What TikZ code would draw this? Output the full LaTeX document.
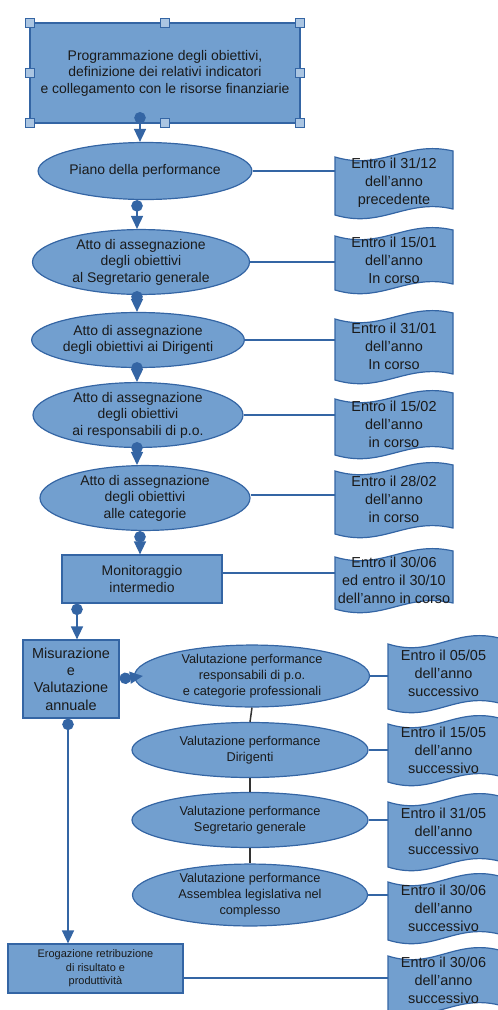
\documentclass[tikz,border=0pt]{standalone}
\usepackage{fontspec}
\setmainfont{Liberation Sans}
\usetikzlibrary{shapes.geometric,arrows.meta,calc}
\definecolor{fillc}{HTML}{729FCF}
\definecolor{bordc}{HTML}{3465A4}
\definecolor{darkc}{HTML}{333333}
\definecolor{txtc}{HTML}{1A1A1A}
\tikzset{
  box/.style={draw=bordc, fill=fillc, line width=1.2bp, align=center, inner sep=0pt, text=txtc},
  ell/.style={ellipse, draw=bordc, fill=fillc, line width=1.2bp, align=center, inner sep=0pt, text=txtc},
  flow/.style={draw=bordc, line width=1.5bp, {Circle[length=11.5bp,width=11.5bp]}-{Triangle[length=13bp,width=12bp]}},
  link/.style={draw=bordc, line width=1.2bp},
  vlink/.style={draw=darkc, line width=1.5bp},
  docfill/.style={draw=bordc, fill=fillc, line width=1.2bp},
  doctext/.style={inner sep=0pt, align=center, text=txtc, font=\fontsize{14.5}{18}\selectfont},
  handle/.style={draw=bordc, fill=fillc!60!white, minimum size=9bp, inner sep=0pt, line width=1bp},
  mainfont/.style={font=\fontsize{14}{16.5}\selectfont},
  smallfont/.style={font=\fontsize{12.8}{16}\selectfont},
  tinyfont/.style={font=\fontsize{11}{13.5}\selectfont}
}
\newcommand\docshape[6]{%
  \path[docfill] (#2,#3+9) .. controls ({#2+0.4*(#4-#2)},#3+23) and ({#2+0.6*(#4-#2)},#3-8) .. (#4,#3+3)
    -- (#4,#5-9) .. controls ({#2+0.6*(#4-#2)},#5-20) and ({#2+0.4*(#4-#2)},#5+11) .. (#2,#5-3) -- cycle;
  \node[doctext, minimum width={(#4-#2)*1bp}, minimum height={(#5-#3)*1bp}] (#1) at ({(#2+#4)/2},{(#3+#5)/2}) {#6};
}
\begin{document}
\begin{tikzpicture}[x=1bp,y=-1bp]
\useasboundingbox (0,0) rectangle (498,1010);
\begin{scope}
\clip (0,0) rectangle (498,1010);
% top box
\node[box, mainfont, minimum width=270bp, minimum height=100bp] (top) at (165,73)
  {Programmazione degli obiettivi,\\definizione dei relativi indicatori\\e collegamento con le risorse finanziarie};
\foreach \n/\x/\y in {h1/30/23, h2/165/23, h3/300/23, h4/30/73, h5/300/73, h6/30/123, h7/165/123, h8/300/123}
  \node[handle] (\n) at (\x,\y) {};
\coordinate (topout) at (140,112);

% ellipses left column
\node[ell, mainfont, minimum width=210bp, minimum height=57bp] (E1) at (145,171) {Piano della performance};
\node[ell, mainfont, minimum width=217bp, minimum height=61bp] (E2) at (141,262) {Atto di assegnazione\\degli obiettivi\\al Segretario generale};
\node[ell, mainfont, minimum width=209bp, minimum height=55bp] (E3) at (138,340) {Atto di assegnazione\\degli obiettivi ai Dirigenti};
\node[ell, mainfont, minimum width=210bp, minimum height=56bp] (E4) at (138,415) {Atto di assegnazione\\degli obiettivi\\ai responsabili di p.o.};
\node[ell, mainfont, minimum width=210bp, minimum height=63bp] (E5) at (145,498) {Atto di assegnazione\\degli obiettivi\\alle categorie};
\node[box, mainfont, minimum width=160bp, minimum height=48bp] (mon) at (142,579) {Monitoraggio\\intermedio};
\node[box, font=\fontsize{14.5}{17.5}\selectfont, minimum width=96bp, minimum height=78bp] (mis) at (71,679) {Misurazione\\e\\Valutazione\\annuale};
\node[box, tinyfont, minimum width=175bp, minimum height=49bp] (ero) at (95.5,968.5) {Erogazione retribuzione\\di risultato e\\produttività};

% evaluation ellipses
\node[ell, smallfont, minimum width=235bp, minimum height=57bp] (E6) at (252,676) {Valutazione performance\\responsabili di p.o.\\e categorie professionali};
\node[ell, smallfont, minimum width=236bp, minimum height=55bp] (E7) at (250,750) {Valutazione performance\\Dirigenti};
\node[ell, smallfont, minimum width=236bp, minimum height=55bp] (E8) at (250,820) {Valutazione performance\\Segretario generale};
\node[ell, smallfont, minimum width=235bp, minimum height=56bp] (E9) at (250,895) {Valutazione performance\\Assemblea legislativa nel\\complesso};

% document shapes
\docshape{d1}{335}{148}{453}{218}{Entro il 31/12\\dell’anno\\precedente}
\docshape{d2}{335}{227}{453}{293}{Entro il 15/01\\dell’anno\\In corso}
\docshape{d3}{335}{310}{453}{383}{Entro il 31/01\\dell’anno\\In corso}
\docshape{d4}{335}{390}{453}{458}{Entro il 15/02\\dell’anno\\in corso}
\docshape{d5}{335}{462}{453}{537}{Entro il 28/02\\dell’anno\\in corso}
\docshape{d6}{335}{548}{453}{612}{Entro il 30/06\\ed entro il 30/10\\dell’anno in corso}
\docshape{d7}{388}{635}{499}{712}{Entro il 05/05\\dell’anno\\successivo}
\docshape{d8}{388}{715}{499}{785}{Entro il 15/05\\dell’anno\\successivo}
\docshape{d9}{388}{793}{499}{870}{Entro il 31/05\\dell’anno\\successivo}
\docshape{d10}{388}{873}{499}{943}{Entro il 30/06\\dell’anno\\successivo}
\docshape{d11}{388}{947}{499}{1014}{Entro il 30/06\\dell’anno\\successivo}

% flow connectors
\draw[flow] (topout) -- ($(E1.north)+(-5,0)$);
\draw[flow] ($(E1.south)+(-8,0)$) -- ($(E2.north)+(-4,0)$);
\draw[flow, shorten <=-4bp] ($(E2.south)+(-4,0)$) -- ($(E3.north)+(-1,0)$);
\draw[flow, shorten <=-6bp] ($(E3.south)+(-1,0)$) -- ($(E4.north)+(-1,0)$);
\draw[flow, shorten <=-6bp] ($(E4.south)+(-1,0)$) -- ($(E5.north)+(-8,0)$);
\draw[flow] ($(E5.south)+(-5,0)$) -- ($(mon.north)+(-2,0)$);
\draw[flow] ($(mon.south)+(-65,0)$) -- ($(mis.north)+(6,0)$);
\draw[flow] (mis.east) -- ($(E6.west)+(9,0)$);
\draw[flow] ($(mis.south)+(-3,0)$) -- ($(ero.north)+(-27.5,0)$);

% links to deadlines
\draw[link] (E1.east) -- (E1.east -| d1.west);
\draw[link] (E2.east) -- (E2.east -| d2.west);
\draw[link] (E3.east) -- (E3.east -| d3.west);
\draw[link] (E4.east) -- (E4.east -| d4.west);
\draw[link] ($(E5.east)+(0,-3)$) -- ($(E5.east -| d5.west)+(0,-3)$);
\draw[link] ($(mon.east)+(0,-6)$) -- ($(mon.east -| d6.west)+(0,-6)$);
\draw[link] (E6.east) -- (E6.east -| d7.west);
\draw[link] (E7.east) -- (E7.east -| d8.west);
\draw[link] (E8.east) -- (E8.east -| d9.west);
\draw[link] (E9.east) -- (E9.east -| d10.west);
\draw[link] ($(ero.east)+(0,9.5)$) -- ($(ero.east -| d11.west)+(0,9.5)$);

% dark vertical links
\draw[vlink] (E6.south) -- (E7.north);
\draw[vlink] (E7.south) -- (E8.north);
\draw[vlink] (E8.south) -- (E9.north);
\end{scope}
\end{tikzpicture}
\end{document}
